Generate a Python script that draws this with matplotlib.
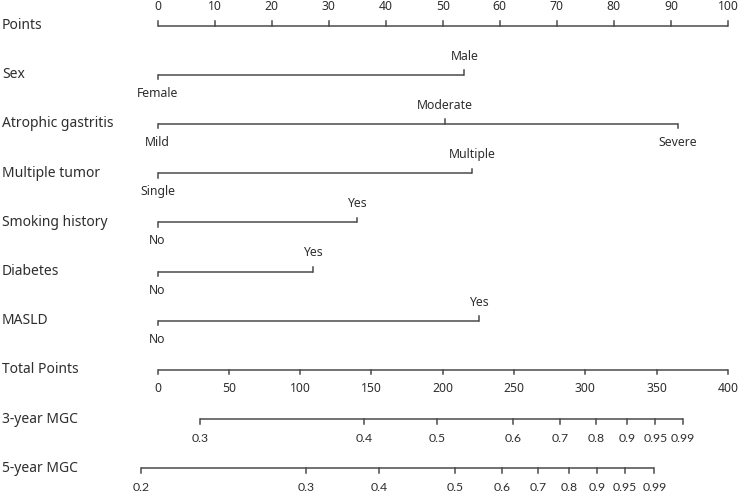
import matplotlib
matplotlib.use("Agg")
import matplotlib.pyplot as plt

# ---------------- data ----------------
points_ticks = [0, 10, 20, 30, 40, 50, 60, 70, 80, 90, 100]

variables = ["Sex", "Atrophic gastritis", "Multiple tumor", "Smoking history", "Diabetes", "MASLD"]
levels = [
    ["Female", "Male"],
    ["Mild", "Moderate", "Severe"],
    ["Single", "Multiple"],
    ["No", "Yes"],
    ["No", "Yes"],
    ["No", "Yes"],
]
level_points = [
    [0, 53.8],
    [0, 50.4, 91.2],
    [0, 55.1],
    [0, 34.9],
    [0, 27.3],
    [0, 56.3],
]

total_ticks = [0, 50, 100, 150, 200, 250, 300, 350, 400]
total_max = 400

prob_labels = ["0.3", "0.4", "0.5", "0.6", "0.7", "0.8", "0.9", "0.95", "0.99"]
mgc3_total = [29.6, 145.0, 195.8, 249.0, 282.2, 307.4, 329.2, 349.0, 368.4]
prob5_labels = ["0.2", "0.3", "0.4", "0.5", "0.6", "0.7", "0.8", "0.9", "0.95", "0.99"]
mgc5_total = [-11.6, 104.3, 155.3, 208.6, 241.5, 267.0, 288.7, 308.4, 327.8, 348.3]

# ---------------- layout ----------------
W, H = 741, 493
fig = plt.figure(figsize=(W / 100, H / 100), dpi=100)
ax = fig.add_axes([0, 0, 1, 1])
px_per_pt = 570.5 / 100.0
x0 = 157.5
ax.set_xlim(-x0 / px_per_pt, (W - x0) / px_per_pt)
ax.set_ylim(H, 0)
ax.axis("off")

LC = "#4a4a4a"
TC = "#2e2e2e"
LW = 1.1
main_font = "Noto Sans"
prob_font = "Lato"
label_fs = 10
tick_fs = 8.8
tick_len = 4.5
lab_off = 18.5
row0 = 25.5
row_gap = 49.2


def row_y(i):
    return row0 + i * row_gap


def left_label(i, text):
    ax.text((2 - x0) / px_per_pt, row_y(i), text, ha="left", va="center",
            fontsize=label_fs, color=TC, family=main_font)


# Points axis
y = row_y(0)
left_label(0, "Points")
ax.plot([points_ticks[0], points_ticks[-1]], [y, y], color=LC, lw=LW, solid_capstyle="butt")
for t in points_ticks:
    ax.plot([t, t], [y, y - tick_len], color=LC, lw=LW)
    ax.text(t, y - lab_off, str(t), ha="center", va="center", fontsize=tick_fs, color=TC, family=main_font)

# Variables
for k, (name, levs, pts) in enumerate(zip(variables, levels, level_points)):
    i = k + 1
    y = row_y(i)
    left_label(i, name)
    ax.plot([min(pts), max(pts)], [y, y], color=LC, lw=LW, solid_capstyle="butt")
    for j, (lv, p) in enumerate(zip(levs, pts)):
        up = (j % 2 == 1)
        d = -1 if up else 1
        ax.plot([p, p], [y, y + d * tick_len], color=LC, lw=LW)
        ax.text(p, y + d * lab_off, lv, ha="center", va="center", fontsize=tick_fs, color=TC, family=main_font)

# Total points
i = len(variables) + 1
y = row_y(i)
left_label(i, "Total Points")
scale = 100.0 / total_max
ax.plot([total_ticks[0] * scale, total_ticks[-1] * scale], [y, y], color=LC, lw=LW, solid_capstyle="butt")
for t in total_ticks:
    ax.plot([t * scale, t * scale], [y, y + tick_len], color=LC, lw=LW)
    ax.text(t * scale, y + lab_off, str(t), ha="center", va="center", fontsize=tick_fs, color=TC, family=main_font)


def prob_axis(i, name, labs, tots):
    y = row_y(i)
    left_label(i, name)
    xs = [t * scale for t in tots]
    ax.plot([xs[0], xs[-1]], [y, y], color=LC, lw=LW, solid_capstyle="butt")
    for lb, xv in zip(labs, xs):
        ax.plot([xv, xv], [y, y + tick_len], color=LC, lw=LW)
        ax.text(xv, y + lab_off + 1, lb, ha="center", va="center", fontsize=tick_fs, color=TC, family=prob_font)


prob_axis(i + 1, "3-year MGC", prob_labels, mgc3_total)
prob_axis(i + 2, "5-year MGC", prob5_labels, mgc5_total)

fig.savefig("out.png", dpi=100, facecolor="white")
